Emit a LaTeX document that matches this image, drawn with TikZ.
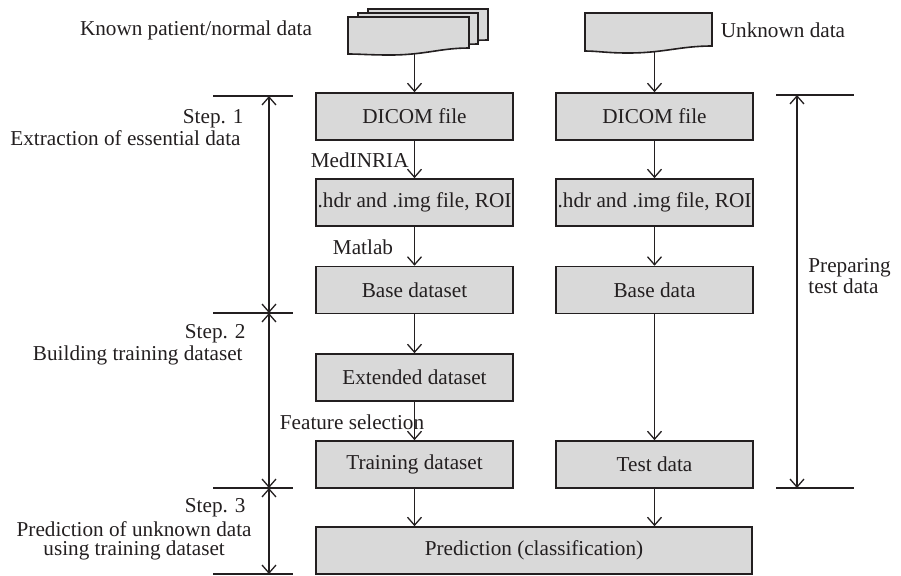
\documentclass[tikz,border=0pt]{standalone}
\usepackage{fontspec}
\setmainfont{Liberation Serif}
\usetikzlibrary{arrows.meta}
\definecolor{boxgray}{RGB}{217,217,217}
\definecolor{ink}{RGB}{35,31,32}
\tikzset{>={Straight Barb[length=4pt,width=7pt]},
  txt/.style={inner sep=0pt,text=ink,font=\fontsize{10.6}{9.6}\selectfont},
  box/.style={txt,draw=ink,fill=boxgray,line width=0.8pt,minimum width=98.5pt,minimum height=23.5pt},
  flow/.style={->,draw=ink,line width=0.65pt},
  tick/.style={draw=ink,line width=0.65pt},
  sheet/.style={draw=ink,fill=boxgray,line width=0.8pt,line join=miter}}

\begin{document}
\begin{tikzpicture}[x=0.5pt,y=-0.5pt]
\useasboundingbox (0,0) rectangle (901,575);
% input data sheets
\draw[sheet] (368,9) -- (488,9) -- (488,40) .. controls (459,40) and (444,47) .. (410,47) -- (368,46) -- cycle;
\draw[sheet] (358,13) -- (478,13) -- (478,44) .. controls (449,44) and (434,51) .. (400,51) -- (358,50) -- cycle;
\draw[sheet] (348,17) -- (469,17) -- (469,48) .. controls (440,48) and (425,55) .. (390,55) .. controls (370,55) and (360,54) .. (348,54) -- cycle;
\draw[sheet] (585,13) -- (712,13) -- (712,46) .. controls (680,46) and (664,53) .. (628,53) .. controls (607,53) and (597,51) .. (585,51) -- cycle;
\coordinate (knownout) at (414.5,54);
\coordinate (unknownout) at (654.5,52);
\node[txt] (known) at (196,30) {Known patient/normal data};
\node[txt] (unknown) at (783,30) {Unknown data};

% left column
\node[box] (dicomL) at (414.5,116.5) {DICOM file};
\node[box] (hdrL) at (414.5,202.5) {.hdr and .img file, ROI};
\node[box] (baseL) at (414.5,290) {Base dataset};
\node[box] (ext) at (414.5,377.5) {Extended dataset};
\node[box] (train) at (414.5,464.5) {Training dataset};
% right column
\node[box] (dicomR) at (654.5,116.5) {DICOM file};
\node[box] (hdrR) at (654.5,202.5) {.hdr and .img file, ROI};
\node[box] (baseR) at (654.5,290) {Base data};
\node[box] (test) at (654.5,464.5) {Test data};
\node[box,minimum width=218pt] (pred) at (534,550.5) {Prediction (classification)};

\draw[flow] (knownout) -- (dicomL);
\draw[flow] (dicomL) -- (hdrL);
\draw[flow] (hdrL) -- (baseL);
\draw[flow] (baseL) -- (ext);
\draw[flow] (ext) -- (train);
\draw[flow] (unknownout) -- (dicomR);
\draw[flow] (dicomR) -- (hdrR);
\draw[flow] (hdrR) -- (baseR);
\draw[flow] (baseR) -- (test);
\draw[flow] (train.south) -- (train.south |- pred.north);
\draw[flow] (test.south) -- (test.south |- pred.north);

\node[txt,anchor=east] (medinria) at (409,160) {MedINRIA};
\node[txt] (matlab) at (363,247) {Matlab};
\node[txt] (featsel) at (352,422) {Feature selection};

% steps
\foreach \y in {96,313,488,574}
  \draw[tick] (213,\y) -- (293,\y);
\coordinate (s0) at (269,96);
\coordinate (s1) at (269,313);
\coordinate (s2) at (269,488);
\coordinate (s3) at (269,574);
\draw[tick,<->] (s0) -- (s1);
\draw[tick,<->] (s1) -- (s2);
\draw[tick,<->] (s2) -- (s3);
\node[txt,anchor=east] (step1) at (244,119) {Step. 1};
\node[txt,anchor=east] (step1txt) at (241,138) {Extraction of essential data};
\node[txt,anchor=east] (step2) at (246,334) {Step. 2};
\node[txt,anchor=east] (step2txt) at (243,355) {Building training dataset};
\node[txt,anchor=east] (step3) at (246,508) {Step. 3};
\node[txt,anchor=east,align=center] (step3txt) at (252,541) {Prediction of unknown data\\using training dataset};

% test data bracket
\draw[tick] (776,95) -- (854,95);
\draw[tick] (776,488) -- (854,488);
\coordinate (p0) at (797,95);
\coordinate (p1) at (797,488);
\draw[tick,<->] (p0) -- (p1);
\node[txt,anchor=west,align=left] (prep) at (808,276) {Preparing\\test data};
\end{tikzpicture}
\end{document}
